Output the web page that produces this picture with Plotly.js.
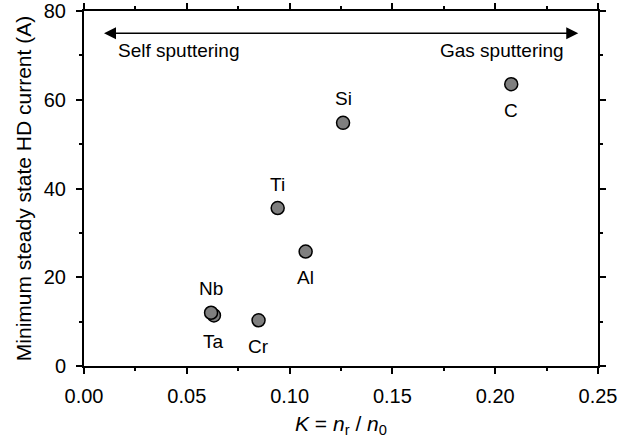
<!DOCTYPE html>
<html>
<head>
<meta charset="utf-8">
<script src="https://cdn.plot.ly/plotly-3.0.1.min.js"></script>
<style>html,body{margin:0;padding:0;background:#fff;}#chart{width:619px;height:445px;}</style>
</head>
<body>
<div id="chart"></div>
<script>
// Data
var elements = ["Ta", "Nb", "Cr", "Ti", "Al", "Si", "C"];
var kValues = [0.0632, 0.0618, 0.0849, 0.0942, 0.1078, 0.1260, 0.2078];
var currentValues = [11.4, 12.0, 10.3, 35.6, 25.8, 54.8, 63.5];
// label positions relative to each point: "above" or "below"
var labelSide = ["below", "above", "below", "above", "below", "above", "below"];
var xTickVals = [0, 0.05, 0.10, 0.15, 0.20, 0.25];
var xTickText = ["0.00", "0.05", "0.10", "0.15", "0.20", "0.25"];
var yTickVals = [0, 20, 40, 60, 80];

var FONT = "Liberation Sans, Arial, Helvetica, sans-serif";

var annotations = [];
for (var i = 0; i < elements.length; i++) {
  annotations.push({
    x: kValues[i], y: currentValues[i], xref: "x", yref: "y",
    text: elements[i], showarrow: false,
    yshift: labelSide[i] === "above" ? 24 : -26,
    font: {family: FONT, size: 19, color: "#000"}
  });
}
// double arrow
annotations.push({
  x: 0.2404, y: 75, ax: 0.009, ay: 75, xref: "x", yref: "y", axref: "x", ayref: "y",
  text: "", showarrow: true, arrowhead: 2, startarrowhead: 2, arrowside: "end+start",
  arrowsize: 1.5, startarrowsize: 1.5, arrowwidth: 1.6, arrowcolor: "#000"
});
annotations.push({
  x: 0.0154, y: 71, xref: "x", yref: "y", xanchor: "left", text: "Self sputtering",
  showarrow: false, font: {family: FONT, size: 19, color: "#000"}
});
annotations.push({
  x: 0.2346, y: 71, xref: "x", yref: "y", xanchor: "right", text: "Gas sputtering",
  showarrow: false, font: {family: FONT, size: 19, color: "#000"}
});
// x-axis title
annotations.push({
  x: 0.5, y: 0, xref: "paper", yref: "paper", yanchor: "middle", yshift: -59,
  text: "<i>K</i> = <i>n</i><sub>r</sub> / <i>n</i><sub>0</sub>",
  showarrow: false, font: {family: FONT, size: 21, color: "#000"}
});

var trace = {
  x: kValues, y: currentValues, type: "scatter", mode: "markers",
  marker: {size: 13, color: "#7f7f7f", line: {color: "#000", width: 1.5}},
  hoverinfo: "skip", cliponaxis: false
};

var axisCommon = {
  showgrid: false, zeroline: false, showline: true, linecolor: "#000", linewidth: 2,
  mirror: "ticks", ticks: "outside", ticklen: 6, tickwidth: 2, tickcolor: "#000",
  tickfont: {family: FONT, size: 20, color: "#000"}
};

var layout = {
  width: 619, height: 445,
  margin: {l: 84, r: 21, t: 11, b: 79},
  paper_bgcolor: "#fff", plot_bgcolor: "#fff",
  showlegend: false,
  xaxis: Object.assign({}, axisCommon, {
    range: [0, 0.25], tickvals: xTickVals, ticktext: xTickText,
    ticklabelstandoff: 5,
    minor: {dtick: 0.025, ticks: "outside", ticklen: 3, tickwidth: 2, tickcolor: "#000"}
  }),
  yaxis: Object.assign({}, axisCommon, {
    range: [0, 80], tickvals: yTickVals, ticklabelstandoff: 6,
    minor: {dtick: 10, ticks: "outside", ticklen: 3, tickwidth: 2, tickcolor: "#000"},
    title: {text: "Minimum steady state HD current (A)", standoff: 6,
      font: {family: FONT, size: 21, color: "#000"}}
  }),
  annotations: annotations
};

Plotly.newPlot("chart", [trace], layout, {staticPlot: true, displayModeBar: false});
</script>
</body>
</html>
